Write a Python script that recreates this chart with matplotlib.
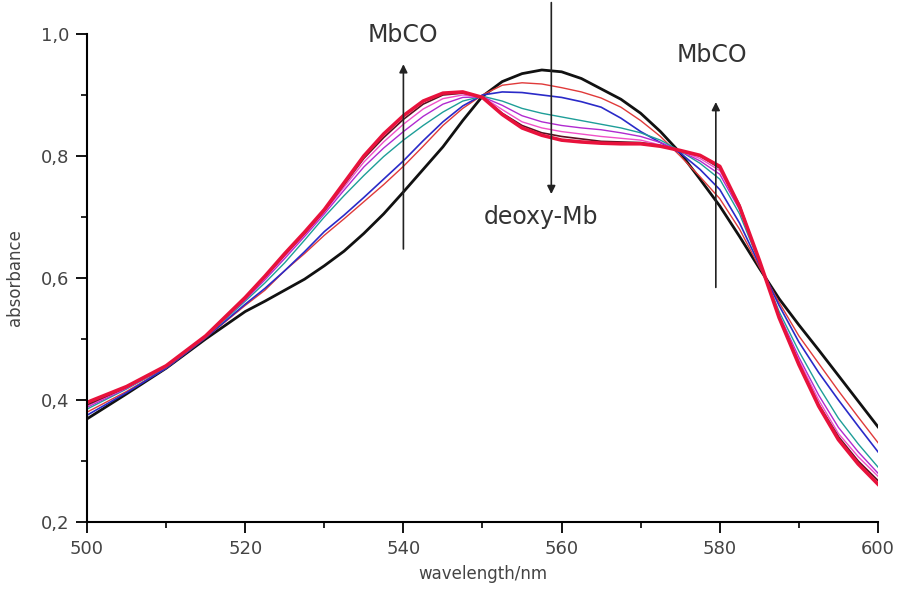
import numpy as np
import matplotlib.pyplot as plt
from matplotlib.ticker import FuncFormatter, MultipleLocator

plt.rcParams['font.family'] = ['DejaVu Sans']

# wavelength grid (nm)
wl = [500, 505, 510, 515, 520, 522.5, 525, 527.5, 530, 532.5, 535, 537.5, 540, 542.5, 545, 547.5,
      550, 552.5, 555, 557.5, 560, 562.5, 565, 567.5, 570, 572.5, 575, 577.5, 580, 582.5, 585,
      587.5, 590, 592.5, 595, 597.5, 600]

# deoxy-Mb (black)
deoxy = [0.369, 0.410, 0.452, 0.500, 0.545, 0.562, 0.580, 0.598, 0.620, 0.644, 0.673, 0.705, 0.741,
         0.778, 0.815, 0.858, 0.898, 0.922, 0.935, 0.941, 0.938, 0.927, 0.910, 0.893, 0.870, 0.840,
         0.805, 0.762, 0.718, 0.668, 0.616, 0.566, 0.523, 0.482, 0.440, 0.398, 0.356]
# intermediate spectra
red_thin = [0.380, 0.414, 0.452, 0.502, 0.555, 0.580, 0.612, 0.640, 0.670, 0.697, 0.725, 0.753, 0.783,
            0.816, 0.850, 0.878, 0.900, 0.916, 0.920, 0.918, 0.912, 0.905, 0.895, 0.880, 0.858, 0.832,
            0.800, 0.766, 0.730, 0.680, 0.618, 0.560, 0.505, 0.460, 0.415, 0.372, 0.330]
blue = [0.375, 0.412, 0.452, 0.502, 0.557, 0.583, 0.612, 0.643, 0.676, 0.703, 0.732, 0.762, 0.792,
        0.825, 0.856, 0.882, 0.900, 0.905, 0.904, 0.900, 0.896, 0.889, 0.880, 0.862, 0.840, 0.822,
        0.805, 0.778, 0.745, 0.690, 0.622, 0.555, 0.495, 0.445, 0.400, 0.357, 0.315]
teal = [0.385, 0.418, 0.454, 0.503, 0.562, 0.592, 0.625, 0.662, 0.700, 0.735, 0.768, 0.799, 0.826,
        0.850, 0.872, 0.890, 0.898, 0.890, 0.878, 0.870, 0.864, 0.858, 0.852, 0.846, 0.838, 0.826,
        0.808, 0.788, 0.762, 0.705, 0.625, 0.545, 0.480, 0.422, 0.370, 0.328, 0.290]
magenta = [0.388, 0.419, 0.455, 0.504, 0.564, 0.597, 0.632, 0.668, 0.705, 0.744, 0.782, 0.813, 0.840,
           0.865, 0.885, 0.896, 0.897, 0.883, 0.866, 0.856, 0.850, 0.846, 0.843, 0.838, 0.832, 0.822,
           0.808, 0.792, 0.770, 0.712, 0.627, 0.540, 0.470, 0.408, 0.355, 0.315, 0.280]
pink = [0.390, 0.420, 0.455, 0.504, 0.566, 0.600, 0.636, 0.671, 0.708, 0.749, 0.790, 0.823, 0.852,
        0.877, 0.894, 0.900, 0.897, 0.876, 0.856, 0.846, 0.840, 0.836, 0.832, 0.829, 0.826, 0.818,
        0.808, 0.796, 0.776, 0.716, 0.628, 0.538, 0.465, 0.400, 0.345, 0.307, 0.275]
dark = [0.392, 0.421, 0.456, 0.505, 0.567, 0.602, 0.638, 0.673, 0.710, 0.753, 0.796, 0.830, 0.860,
        0.885, 0.900, 0.903, 0.897, 0.870, 0.850, 0.838, 0.832, 0.828, 0.824, 0.823, 0.822, 0.817,
        0.808, 0.800, 0.780, 0.720, 0.628, 0.537, 0.460, 0.393, 0.340, 0.300, 0.268]
# MbCO (thick red)
mbco = [0.396, 0.422, 0.456, 0.505, 0.568, 0.603, 0.640, 0.675, 0.712, 0.756, 0.800, 0.836, 0.866,
        0.890, 0.903, 0.905, 0.896, 0.868, 0.846, 0.834, 0.826, 0.823, 0.821, 0.820, 0.820, 0.816,
        0.809, 0.801, 0.783, 0.717, 0.629, 0.535, 0.458, 0.390, 0.335, 0.295, 0.262]

fig = plt.figure(figsize=(8.98, 5.90), dpi=100)
ax = fig.add_axes([0.0969, 0.1153, 0.8808, 0.8271])

ax.plot(wl, deoxy, color='#111111', lw=2.0)
ax.plot(wl, red_thin, color='#e03a3a', lw=1.0)
ax.plot(wl, blue, color='#2a2ac8', lw=1.2)
ax.plot(wl, teal, color='#1e9e98', lw=1.0)
ax.plot(wl, magenta, color='#b02ad0', lw=1.0)
ax.plot(wl, pink, color='#f050c8', lw=1.0)
ax.plot(wl, dark, color='#5a1020', lw=1.2)
ax.plot(wl, mbco, color='#e8123c', lw=2.6)

ax.set_xlim(500, 600)
ax.set_ylim(0.2, 1.0)
ax.xaxis.set_major_locator(MultipleLocator(20))
ax.xaxis.set_minor_locator(MultipleLocator(10))
ax.yaxis.set_major_locator(MultipleLocator(0.2))
ax.yaxis.set_minor_locator(MultipleLocator(0.1))
ax.yaxis.set_major_formatter(FuncFormatter(lambda v, p: f'{v:.1f}'.replace('.', ',')))

for s in ['top', 'right']:
    ax.spines[s].set_visible(False)
for s in ['left', 'bottom']:
    ax.spines[s].set_linewidth(1.5)
ax.tick_params(which='major', direction='out', length=8, width=1.3, labelsize=13,
               labelcolor='#444444', pad=5)
ax.tick_params(which='minor', direction='out', length=4.5, width=1.2)

ax.set_xlabel('wavelength/nm', fontsize=12, color='#444444', labelpad=5)
ax.set_ylabel('absorbance', fontsize=12, color='#444444', labelpad=12)

arrow = dict(arrowstyle='-|>', color='#222222', lw=1.2, mutation_scale=12)
ax.annotate('', xy=(540, 0.955), xytext=(540, 0.643), arrowprops=arrow, annotation_clip=False)
ax.annotate('', xy=(558.7, 0.733), xytext=(558.7, 1.056), arrowprops=arrow, annotation_clip=False)
ax.annotate('', xy=(579.5, 0.893), xytext=(579.5, 0.58), arrowprops=arrow, annotation_clip=False)

ax.text(540, 0.998, 'MbCO', fontsize=17, color='#333333', ha='center', va='center')
ax.text(557.4, 0.700, 'deoxy-Mb', fontsize=17, color='#333333', ha='center', va='center')
ax.text(579, 0.966, 'MbCO', fontsize=17, color='#333333', ha='center', va='center')

fig.savefig('out.png', dpi=100)
